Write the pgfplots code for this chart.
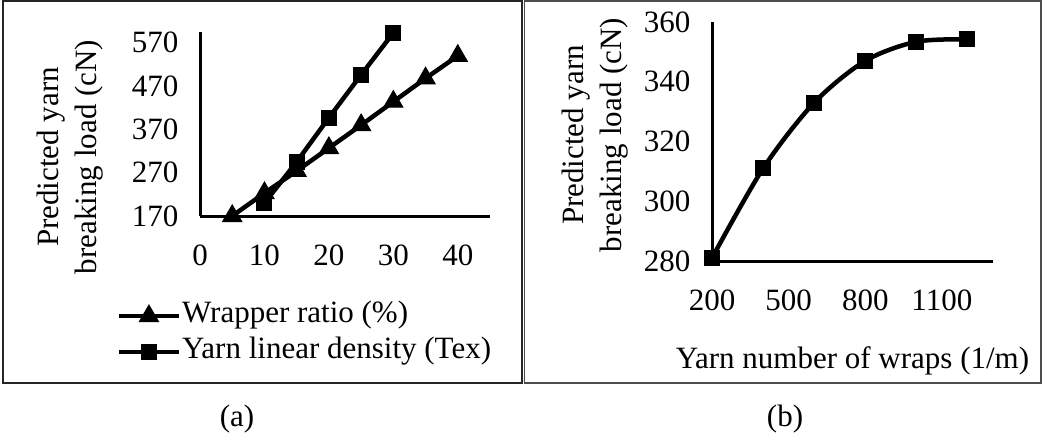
\documentclass[border=0pt]{standalone}
\usepackage{fontspec}
\setmainfont{Liberation Serif}
\usepackage{pgfplots}
\pgfplotsset{compat=1.18}

\newcommand\tnr{\fontsize{31}{38}\selectfont}

\pgfplotsset{
  panel/.style={
    scale only axis,
    clip=false,
    axis x line*=bottom,
    axis y line*=left,
    axis line style={line width=3pt, -},
    major tick length=0pt,
    tick label style={font=\tnr},
    /pgf/number format/assume math mode=true,
    /pgf/number format/1000 sep={},
    xticklabel style={anchor=base, yshift=-49pt},
    yticklabel style={anchor=east, xshift=-18pt},
  },
  series/.style={black, line width=4.5pt, mark options={solid, line width=1pt}},
}

\begin{document}
\begin{tikzpicture}
\useasboundingbox (0pt,0pt) rectangle (1042pt,-441pt);

% panel frames
\draw[black!85, line width=1.4pt] (3pt,-1pt) rectangle (522pt,-383pt);
\draw[black!70, line width=1.4pt] (524.5pt,-1pt) rectangle (1041pt,-383pt);

% (a) breaking load against wrapper ratio and yarn linear density
\begin{axis}[panel,
  at={(200pt,-216pt)}, anchor=south west,
  width=290pt, height=184pt,
  xmin=0, xmax=45, ymin=170, ymax=595,
  xtick={0,10,20,30,40},
  ytick={170,270,370,470,570},
  legend style={at={(axis description cs:-0.288,-0.445)}, anchor=north west,
    draw=none, fill=none, font=\tnr, inner sep=0pt, row sep=0pt,
    nodes={inner sep=1pt, text height=23pt, text depth=11pt}},
  legend cell align=left,
  legend image code/.code={\draw[mark repeat=2, mark phase=2]
    plot coordinates {(0pt,0pt) (30pt,0pt) (60pt,0pt)};},
]
\addplot[series, mark=triangle*, mark size=11pt] coordinates {
  (5,170) (10,223) (15,274) (20,327) (25,380) (30,434) (35,488) (40,540)};
\addlegendentry{Wrapper ratio (\%)}
\addplot[series, mark=square*, mark size=7.5pt] coordinates {
  (10,200) (15,295) (20,397) (25,496) (30,593)};
\addlegendentry{Yarn linear density (Tex)}
\end{axis}
\node[rotate=90, align=center, font=\tnr] at (70pt,-157pt)
  {Predicted yarn\\breaking load (cN)};

% (b) breaking load against number of wraps
\begin{axis}[panel,
  at={(712pt,-261pt)}, anchor=south west,
  width=281pt, height=239pt,
  xmin=200, xmax=1300, ymin=280, ymax=360,
  xtick={200,500,800,1100},
  ytick={280,300,320,340,360},
  xlabel={Yarn number of wraps (1/m)},
  xlabel style={font=\tnr, anchor=base, at={(axis description cs:0.5,0)}, yshift=-107pt},
]
\addplot[series, smooth, mark=square*, mark size=7.5pt] coordinates {
  (200,281) (400,311) (600,333) (800,347) (1000,353.4) (1200,354.2)};
\end{axis}
\node[rotate=90, align=center, font=\tnr] at (595pt,-135pt)
  {Predicted yarn\\breaking load (cN)};

% captions
\node[font=\tnr, anchor=base] at (237pt,-426pt) {(a)};
\node[font=\tnr, anchor=base] at (785pt,-426pt) {(b)};
\end{tikzpicture}
\end{document}
